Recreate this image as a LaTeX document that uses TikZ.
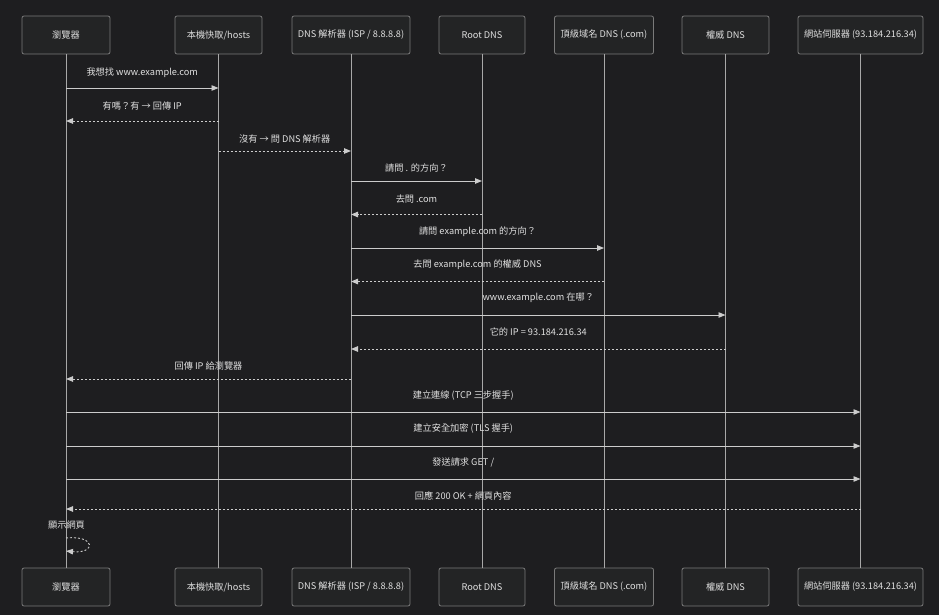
\documentclass[tikz,border=0pt]{standalone}
\usepackage{fontspec}
\setmainfont{Noto Sans CJK TC}
\usetikzlibrary{arrows.meta}
\definecolor{bg}{HTML}{1E1E20}
\definecolor{boxfill}{HTML}{232425}
\definecolor{boxline}{HTML}{7A7A7A}
\definecolor{txt}{HTML}{E0E0E0}
\definecolor{ln}{HTML}{CCCCCC}
\definecolor{life}{HTML}{A8A8A8}
\tikzset{
  actor/.style={draw=boxline, fill=boxfill, rounded corners=2pt, line width=0.8pt,
    minimum height=38pt, text=txt, font=\fontsize{9.2}{11}\selectfont, inner sep=2pt},
  lifeline/.style={draw=life, line width=1pt},
  sync/.style={draw=ln, line width=0.9pt, -{Triangle[length=7pt,width=5.5pt]}},
  reply/.style={draw=ln, line width=0.9pt, dash pattern=on 2pt off 2pt, -{Triangle[length=7pt,width=5.5pt]}},
  lbl/.style={text=txt, font=\fontsize{9.2}{11}\selectfont, inner sep=0pt}
}
\begin{document}
\begin{tikzpicture}[x=1pt,y=-1pt]
\useasboundingbox[fill=bg] (0,0) rectangle (939,615);
% participants top
\node[actor, minimum width=88pt]  (t1) at (66,35)    {瀏覽器};
\node[actor, minimum width=87pt]  (t2) at (218.5,35) {本機快取/hosts};
\node[actor, minimum width=118pt] (t3) at (351,35)   {DNS 解析器 (ISP / 8.8.8.8)};
\node[actor, minimum width=86pt]  (t4) at (482,35)   {Root DNS};
\node[actor, minimum width=99pt]  (t5) at (604,35)   {頂級域名 DNS (.com)};
\node[actor, minimum width=87pt]  (t6) at (725.5,35) {權威 DNS};
\node[actor, minimum width=125pt] (t7) at (860.5,35) {網站伺服器 (93.184.216.34)};
% participants bottom
\node[actor, minimum width=88pt]  (b1) at (66,587)    {瀏覽器};
\node[actor, minimum width=87pt]  (b2) at (218.5,587) {本機快取/hosts};
\node[actor, minimum width=118pt] (b3) at (351,587)   {DNS 解析器 (ISP / 8.8.8.8)};
\node[actor, minimum width=86pt]  (b4) at (482,587)   {Root DNS};
\node[actor, minimum width=99pt]  (b5) at (604,587)   {頂級域名 DNS (.com)};
\node[actor, minimum width=87pt]  (b6) at (725.5,587) {權威 DNS};
\node[actor, minimum width=125pt] (b7) at (860.5,587) {網站伺服器 (93.184.216.34)};
% lifelines
\foreach \i in {1,...,7} { \draw[lifeline] (t\i.south) -- (b\i.north); }
% messages
\draw[sync]  (t1 |- 0,88)  -- node[lbl, above=10pt] {我想找 www.example.com} (t2 |- 0,88);
\draw[reply] (t2 |- 0,121) -- node[lbl, above=10pt] {有嗎？有 → 回傳 IP} (t1 |- 0,121);
\draw[reply] (t2 |- 0,151) -- node[lbl, above=7pt] {沒有 → 問 DNS 解析器} (t3 |- 0,151);
\draw[sync]  (t3 |- 0,181) -- node[lbl, above=8pt] {請問 . 的方向？} (t4 |- 0,181);
\draw[reply] (t4 |- 0,214.5) -- node[lbl, above=11pt] {去問 .com} (t3 |- 0,214.5);
\draw[sync]  (t3 |- 0,248) -- node[lbl, above=11pt] {請問 example.com 的方向？} (t5 |- 0,248);
\draw[reply] (t5 |- 0,281.5) -- node[lbl, above=11pt] {去問 example.com 的權威 DNS} (t3 |- 0,281.5);
\draw[sync]  (t3 |- 0,315) -- node[lbl, above=12pt] {www.example.com 在哪？} (t6 |- 0,315);
\draw[reply] (t6 |- 0,349) -- node[lbl, above=12pt] {它的 IP = 93.184.216.34} (t3 |- 0,349);
\draw[reply] (t3 |- 0,379) -- node[lbl, above=8pt] {回傳 IP 給瀏覽器} (t1 |- 0,379);
\draw[sync]  (t1 |- 0,412) -- node[lbl, above=11pt] {建立連線 (TCP 三步握手)} (t7 |- 0,412);
\draw[sync]  (t1 |- 0,446) -- node[lbl, above=12pt] {建立安全加密 (TLS 握手)} (t7 |- 0,446);
\draw[sync]  (t1 |- 0,479) -- node[lbl, above=11pt] {發送請求 GET /} (t7 |- 0,479);
\draw[reply] (t7 |- 0,509) -- node[lbl, above=8pt] {回應 200 OK + 網頁內容} (t1 |- 0,509);
% self message
\coordinate (s1) at (t1 |- 0,538);
\coordinate (s2) at (t1 |- 0,551);
\node[lbl] (selfl) at (66.5,525) {顯示網頁};
\draw[reply] (s1) .. controls (96,535) and (96,554) .. (s2);
\end{tikzpicture}
\end{document}
